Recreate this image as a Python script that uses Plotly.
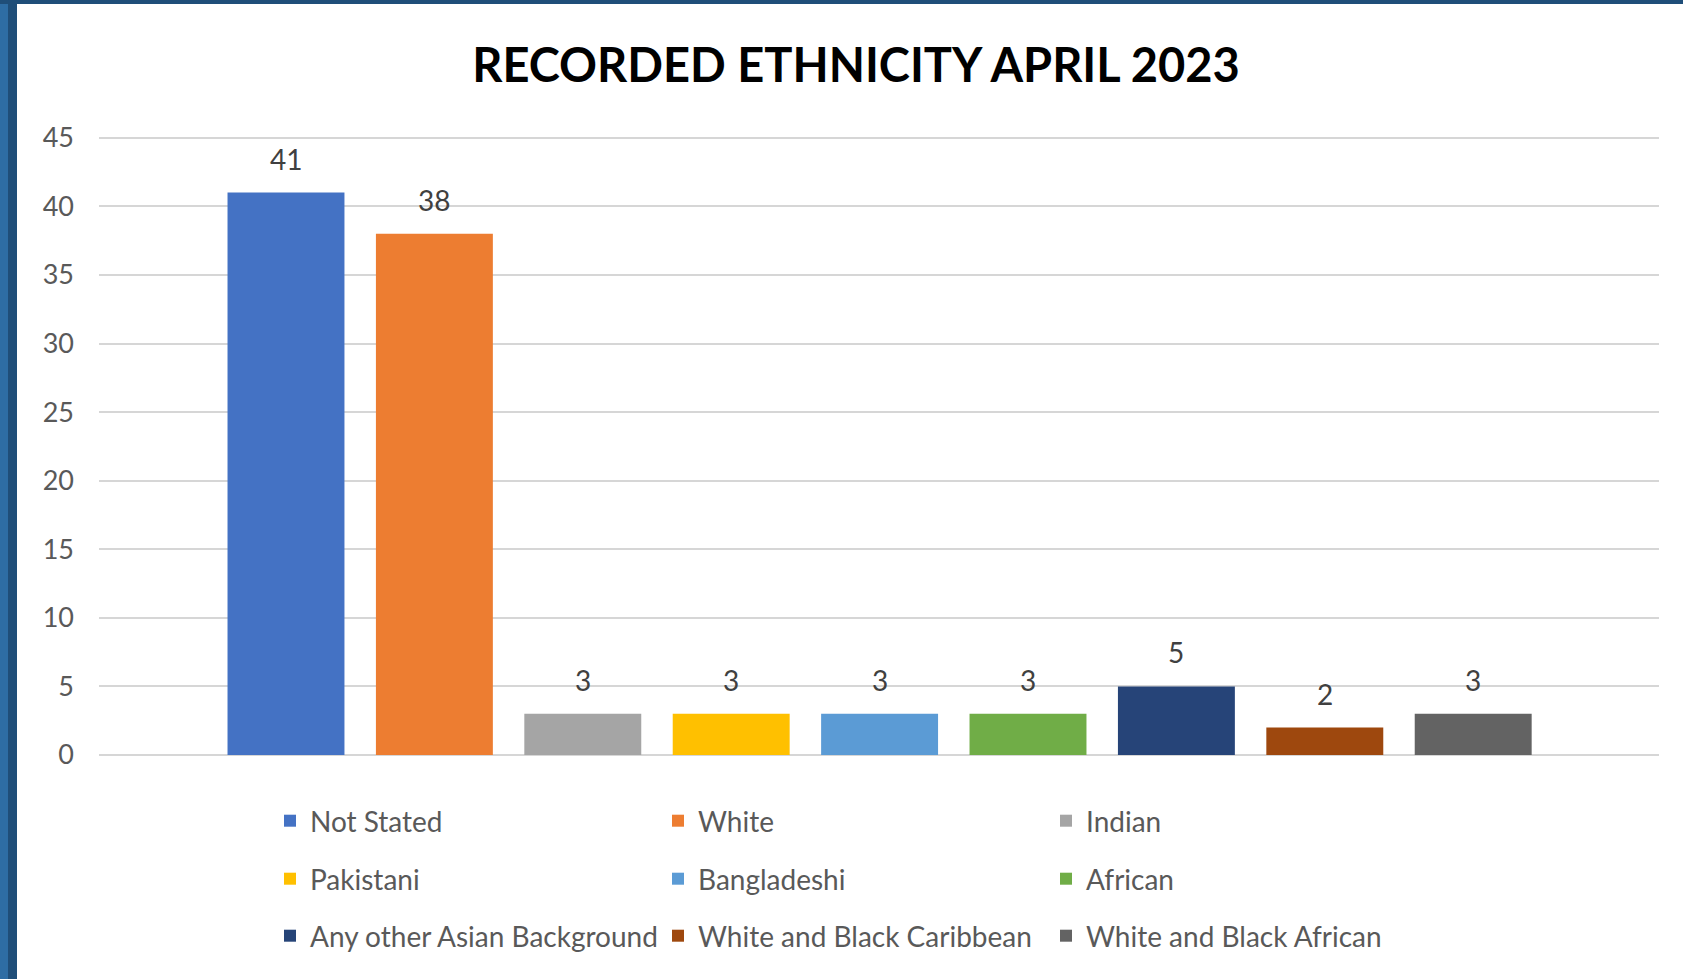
import plotly.graph_objects as go

# ---- data ----
series_names = ["Not Stated", "White", "Indian", "Pakistani", "Bangladeshi", "African",
                "Any other Asian Background", "White and Black Caribbean", "White and Black African"]
counts = [41, 38, 3, 3, 3, 3, 5, 2, 3]
bar_colors = ["#4472C4", "#ED7D31", "#A5A5A5", "#FFC000", "#5B9BD5", "#70AD47",
              "#264478", "#9E480E", "#636363"]
y_ticks = [0, 5, 10, 15, 20, 25, 30, 35, 40, 45]
title_text = "RECORDED ETHNICITY APRIL 2023"

# ---- layout constants ----
W, H = 1683, 979
ML, MR, MT, MB = 99, 24, 135, 224
PW, PH = W - ML - MR, H - MT - MB
BAR_WIDTH = 0.788
FONT = "Lato"


def paper_x(px):
    return (px - ML) / PW


def paper_y(py):
    return (H - MB - py) / PH


legend_ids = ["legend", "legend2", "legend3"]

fig = go.Figure()
for i, (name, val, col) in enumerate(zip(series_names, counts, bar_colors)):
    fig.add_trace(go.Bar(
        x=[name], y=[val], name=name, marker=dict(color=col, line=dict(width=0)),
        width=BAR_WIDTH, legend=legend_ids[i // 3], hoverinfo="name+y",
    ))

annotations = [
    dict(x=name, y=val, xref="x", yref="y", text=str(val), showarrow=False,
         yanchor="bottom", yshift=15, font=dict(family=FONT, size=28, color="#404040"))
    for name, val in zip(series_names, counts)
]

legend_common = dict(
    orientation="h", xref="container", yref="container", xanchor="left", yanchor="middle",
    x=270 / W, entrywidth=343, entrywidthmode="pixels",
    font=dict(family=FONT, size=28, color="#595959"), bgcolor="rgba(0,0,0,0)",
    traceorder="normal",
)
row_centres = [821, 879, 936]

shapes = [
    dict(type="rect", xref="paper", yref="paper", x0=paper_x(0), x1=paper_x(8),
         y0=paper_y(H), y1=paper_y(0), fillcolor="#2E6DA4", line=dict(width=0), layer="above"),
    dict(type="rect", xref="paper", yref="paper", x0=paper_x(8), x1=paper_x(17),
         y0=paper_y(H), y1=paper_y(0), fillcolor="#1F4E79", line=dict(width=0), layer="above"),
    dict(type="rect", xref="paper", yref="paper", x0=paper_x(0), x1=paper_x(W),
         y0=paper_y(4), y1=paper_y(0), fillcolor="#1F4E79", line=dict(width=0), layer="above"),
]

fig.update_layout(
    width=W, height=H,
    margin=dict(l=ML, r=MR, t=MT, b=MB, autoexpand=False),
    paper_bgcolor="white", plot_bgcolor="white",
    barmode="overlay", bargap=0.21,
    title=dict(text=title_text, xref="container", yref="container", x=856 / W, xanchor="center",
               y=1 - 66 / H, yanchor="middle",
               font=dict(family=FONT, size=47, color="black", weight="bold")),
    xaxis=dict(type="category", categoryorder="array", categoryarray=series_names,
               range=[-1.26, 9.252], showticklabels=False, showgrid=False, zeroline=False,
               showline=False, ticks=""),
    yaxis=dict(range=[0, 45.2], tickvals=y_ticks, showgrid=True, gridcolor="#D6D6D6", gridwidth=2,
               zeroline=True, zerolinecolor="#D6D6D6", zerolinewidth=2, showline=False,
               ticks="", ticklabelstandoff=24,
               tickfont=dict(family=FONT, size=27, color="#595959")),
    annotations=annotations,
    shapes=shapes,
    showlegend=True,
)
for lid, yc in zip(legend_ids, row_centres):
    fig.update_layout({lid: dict(legend_common, y=1 - yc / H)})

fig.write_html("out.html", config={"displayModeBar": False},
               post_script="document.body.style.margin='0';document.body.style.overflow='hidden';")
